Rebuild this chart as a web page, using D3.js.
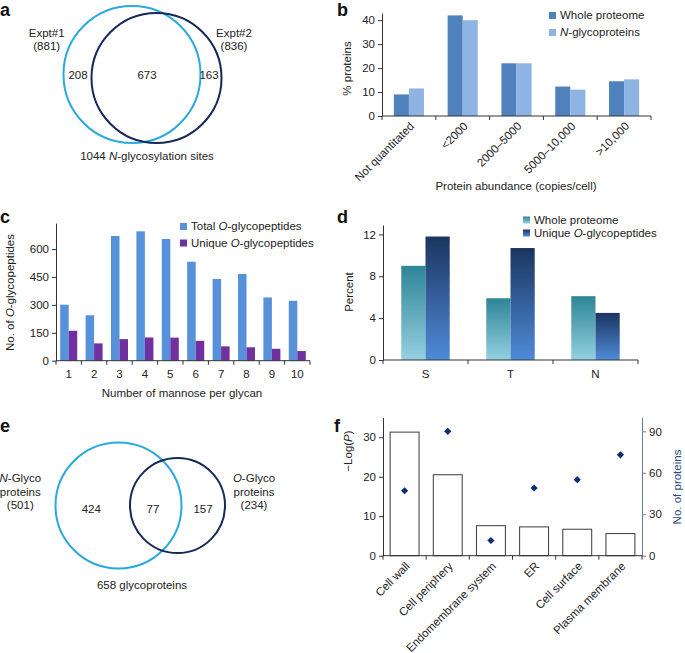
<!DOCTYPE html>
<html><head><meta charset="utf-8">
<script src="https://cdn.jsdelivr.net/npm/d3@7"></script>
<style>
body{margin:0;background:#fff;}
svg{display:block;font-family:"Liberation Sans",Arial,Helvetica,sans-serif;}
.tick text{font-size:11.5px;fill:#222;}
</style></head><body>
<svg id="fig" width="685" height="653"></svg>
<script>
// ---------- DATA ----------
// Panel a (Venn of N-glycosylation sites)
const vennASets = ["Expt#1", "Expt#2"];
const vennASizes = [881, 836];
const vennARegions = [208, 673, 163];
const vennATotal = 1044;
// Panel b
const abundanceCats = ["Not quantitated", "<2000", "2000–5000", "5000–10,000", ">10,000"];
const wholeProteomePct = [9.0, 42.0, 22.0, 12.3, 14.5];
const nGlycoPct = [11.5, 40.0, 22.0, 11.0, 15.3];
const bTicks = [0, 10, 20, 30, 40];
// Panel c
const mannoseCats = [1, 2, 3, 4, 5, 6, 7, 8, 9, 10];
const totalOGlyco = [301, 244, 670, 695, 654, 532, 439, 466, 340, 322];
const uniqueOGlyco = [161, 93, 116, 125, 124, 107, 77, 72, 64, 52];
const cTicks = [0, 150, 300, 450, 600];
// Panel d
const residueCats = ["S", "T", "N"];
const wholeProteomeRes = [9.0, 5.9, 6.1];
const uniqueORes = [11.8, 10.7, 4.5];
const dTicks = [0, 4, 8, 12];
// Panel e (Venn of glycoproteins)
const vennESets = ["N-Glyco proteins", "O-Glyco proteins"];
const vennESizes = [501, 234];
const vennERegions = [424, 77, 157];
const vennETotal = 658;
// Panel f
const goCats = ["Cell wall", "Cell periphery", "Endomembrane system", "ER", "Cell surface", "Plasma membrane"];
const negLogP = [31.3, 20.5, 7.6, 7.3, 6.7, 5.6];
const proteinCounts = [47, 90, 11, 49, 55, 73];
const fLeftTicks = [0, 10, 20, 30];
const fRightTicks = [0, 30, 60, 90];

// ---------- LAYOUT / STYLE ----------
const FS = 11.5;
const axisColor = "#333";
const svg = d3.select("#fig");

function panelLabel(t, x, y) {
  svg.append("text").attr("x", x).attr("y", y).attr("font-size", 18)
    .attr("font-weight", "bold").attr("fill", "#111").text(t);
}
function txt(g, x, y, parts, anchor = "middle", fill = "#222") {
  const t = g.append("text").attr("x", x).attr("y", y).attr("text-anchor", anchor)
    .attr("font-size", FS).attr("fill", fill);
  parts.forEach(p => {
    const s = t.append("tspan").text(p.t !== undefined ? p.t : p);
    if (p.i) s.attr("font-style", "italic");
  });
  return t;
}
function styleAxis(g, color = axisColor) {
  g.selectAll("path,line").attr("stroke", color).attr("stroke-width", 1);
  g.selectAll("text").attr("font-family", "inherit").attr("font-size", FS);
}
function bandBoundaryAxis(g, x, y0, color = axisColor) {
  const [r0, r1] = x.range();
  g.append("line").attr("x1", r0).attr("x2", r1).attr("y1", y0).attr("y2", y0)
    .attr("stroke", color);
  const n = x.domain().length;
  d3.range(n + 1).forEach(i => {
    const xx = r0 + i * x.step();
    g.append("line").attr("x1", xx).attr("x2", xx).attr("y1", y0).attr("y2", y0 + 4)
      .attr("stroke", color);
  });
}
function legendItem(g, x, y, fill, parts) {
  g.append("rect").attr("x", x).attr("y", y - 7).attr("width", 7).attr("height", 7).attr("fill", fill);
  txt(g, x + 11, y, parts, "start");
}

// ---------- PANEL A ----------
panelLabel("a", 0, 16);
{
  const g = svg.append("g");
  const layout = [{ cx: 132, cy: 74.5, r: 68.5, color: "#29a9e0" }, { cx: 156.5, cy: 78, r: 65, color: "#14285a" }];
  g.selectAll("circle").data(vennASizes).join("circle")
    .attr("cx", (d, i) => layout[i].cx).attr("cy", (d, i) => layout[i].cy)
    .attr("r", (d, i) => layout[i].r).attr("fill", "none")
    .attr("stroke", (d, i) => layout[i].color).attr("stroke-width", 2);
  txt(g, 46.7, 36.5, [vennASets[0]]);
  txt(g, 46.7, 50, [`(${vennASizes[0]})`]);
  txt(g, 234, 36.5, [vennASets[1]]);
  txt(g, 234, 50, [`(${vennASizes[1]})`]);
  [78, 147, 209].forEach((x, i) => txt(g, x, 79, [String(vennARegions[i])]));
  txt(g, 147, 160, [`${vennATotal} `, { t: "N", i: true }, "-glycosylation sites"]);
}

// ---------- PANEL B ----------
panelLabel("b", 337, 16);
{
  const g = svg.append("g");
  const x = d3.scaleBand().domain(abundanceCats).range([382, 651]);
  const y = d3.scaleLinear().domain([0, 43]).range([116, 13]);
  const bw = x.bandwidth() * 0.28;
  g.selectAll(".b1").data(wholeProteomePct).join("rect")
    .attr("x", (d, i) => x(abundanceCats[i]) + x.bandwidth() / 2 - bw)
    .attr("y", d => y(d)).attr("width", bw).attr("height", d => y(0) - y(d)).attr("fill", "#4f81bd");
  g.selectAll(".b2").data(nGlycoPct).join("rect")
    .attr("x", (d, i) => x(abundanceCats[i]) + x.bandwidth() / 2)
    .attr("y", d => y(d)).attr("width", bw).attr("height", d => y(0) - y(d)).attr("fill", "#8fb4e3");
  const ya = g.append("g").attr("transform", `translate(382,0)`)
    .call(d3.axisLeft(y).tickValues(bTicks).tickSize(4).tickSizeOuter(0));
  styleAxis(ya);
  bandBoundaryAxis(g, x, 116);
  abundanceCats.forEach(c => {
    g.append("text").attr("transform", `translate(${x(c) + x.bandwidth() / 2 + 3},${124}) rotate(-45)`)
      .attr("text-anchor", "end").attr("font-size", FS).attr("fill", "#222").attr("dy", "0.35em").text(c);
  });
  txt(g, 516, 190, ["Protein abundance (copies/cell)"]);
  txt(g, 0, 0, ["% proteins"]).attr("transform", "translate(351,68.5) rotate(-90)");
  legendItem(g, 549, 19, "#4f81bd", ["Whole proteome"]);
  legendItem(g, 549, 36, "#8fb4e3", [{ t: "N", i: true }, "-glycoproteins"]);
}

// ---------- PANEL C ----------
panelLabel("c", 0, 223);
{
  const g = svg.append("g");
  const x = d3.scaleBand().domain(mannoseCats).range([56, 310]);
  const y = d3.scaleLinear().domain([0, 740]).range([360.7, 223]);
  const bw = x.bandwidth() * 0.335;
  g.selectAll(".c1").data(totalOGlyco).join("rect")
    .attr("x", (d, i) => x(mannoseCats[i]) + x.bandwidth() / 2 - bw)
    .attr("y", d => y(d)).attr("width", bw).attr("height", d => y(0) - y(d)).attr("fill", "#5691da");
  g.selectAll(".c2").data(uniqueOGlyco).join("rect")
    .attr("x", (d, i) => x(mannoseCats[i]) + x.bandwidth() / 2)
    .attr("y", d => y(d)).attr("width", bw).attr("height", d => y(0) - y(d)).attr("fill", "#7030a0");
  const ya = g.append("g").attr("transform", `translate(56,0)`)
    .call(d3.axisLeft(y).tickValues(cTicks).tickSize(4).tickSizeOuter(0));
  styleAxis(ya);
  bandBoundaryAxis(g, x, 360.7);
  mannoseCats.forEach(c => txt(g, x(c) + x.bandwidth() / 2, 378, [String(c)]));
  txt(g, 182, 397, ["Number of mannose per glycan"]);
  txt(g, 0, 0, ["No. of ", { t: "O", i: true }, "-glycopeptides"]).attr("transform", "translate(14,292.5) rotate(-90)");
  legendItem(g, 180, 230, "#5691da", ["Total ", { t: "O", i: true }, "-glycopeptides"]);
  legendItem(g, 180, 246.5, "#7030a0", ["Unique ", { t: "O", i: true }, "-glycopeptides"]);
}

// ---------- PANEL D ----------
panelLabel("d", 337, 223);
{
  const g = svg.append("g");
  const defs = svg.append("defs");
  const gr1 = defs.append("linearGradient").attr("id", "gTeal").attr("x1", 0).attr("y1", 0).attr("x2", 0).attr("y2", 1);
  gr1.append("stop").attr("offset", "0%").attr("stop-color", "#2d8596");
  gr1.append("stop").attr("offset", "100%").attr("stop-color", "#95d0e0");
  const gr2 = defs.append("linearGradient").attr("id", "gBlue").attr("x1", 0).attr("y1", 0).attr("x2", 0).attr("y2", 1);
  gr2.append("stop").attr("offset", "0%").attr("stop-color", "#1b3560");
  gr2.append("stop").attr("offset", "100%").attr("stop-color", "#4f8bd8");
  const x = d3.scaleBand().domain(residueCats).range([383, 638]);
  const y = d3.scaleLinear().domain([0, 12.9]).range([360, 225]);
  const bw = x.bandwidth() * 0.285;
  g.selectAll(".d1").data(wholeProteomeRes).join("rect")
    .attr("x", (d, i) => x(residueCats[i]) + x.bandwidth() / 2 - bw)
    .attr("y", d => y(d)).attr("width", bw).attr("height", d => y(0) - y(d)).attr("fill", "url(#gTeal)");
  g.selectAll(".d2").data(uniqueORes).join("rect")
    .attr("x", (d, i) => x(residueCats[i]) + x.bandwidth() / 2)
    .attr("y", d => y(d)).attr("width", bw).attr("height", d => y(0) - y(d)).attr("fill", "url(#gBlue)");
  const ya = g.append("g").attr("transform", `translate(383,0)`)
    .call(d3.axisLeft(y).tickValues(dTicks).tickSize(4).tickSizeOuter(0));
  styleAxis(ya);
  bandBoundaryAxis(g, x, 360);
  residueCats.forEach(c => txt(g, x(c) + x.bandwidth() / 2, 378, [c]));
  txt(g, 0, 0, ["Percent"]).attr("transform", "translate(353,292) rotate(-90)");
  legendItem(g, 523, 223.5, "url(#gTeal)", ["Whole proteome"]);
  legendItem(g, 523, 236.5, "url(#gBlue)", ["Unique ", { t: "O", i: true }, "-glycopeptides"]);
}

// ---------- PANEL E ----------
panelLabel("e", 0, 432);
{
  const g = svg.append("g");
  const layout = [{ cx: 118.5, cy: 505.5, r: 63, color: "#29a9e0" }, { cx: 177.5, cy: 505.5, r: 47.5, color: "#14285a" }];
  g.selectAll("circle").data(vennESizes).join("circle")
    .attr("cx", (d, i) => layout[i].cx).attr("cy", (d, i) => layout[i].cy)
    .attr("r", (d, i) => layout[i].r).attr("fill", "none")
    .attr("stroke", (d, i) => layout[i].color).attr("stroke-width", 2);
  const [nA, nB] = vennESets.map(s => s.split(" "));
  txt(g, 20.3, 482, [{ t: nA[0][0], i: true }, nA[0].slice(1)]);
  txt(g, 20.3, 495.5, [nA[1]]);
  txt(g, 20.3, 509, [`(${vennESizes[0]})`]);
  txt(g, 254, 482, [{ t: nB[0][0], i: true }, nB[0].slice(1)]);
  txt(g, 254, 495.5, [nB[1]]);
  txt(g, 254, 509, [`(${vennESizes[1]})`]);
  [91.3, 153, 203].forEach((x, i) => txt(g, x, 512.5, [String(vennERegions[i])]));
  txt(g, 142, 588.5, [`${vennETotal} glycoproteins`]);
}

// ---------- PANEL F ----------
panelLabel("f", 334, 432);
{
  const g = svg.append("g");
  const x = d3.scaleBand().domain(goCats).range([383, 642]);
  const yL = d3.scaleLinear().domain([0, 35]).range([555.7, 417.5]);
  const yR = d3.scaleLinear().domain([0, 100]).range([555.7, 417.5]);
  const bw = x.bandwidth() * 0.67;
  g.selectAll(".f1").data(negLogP).join("rect")
    .attr("x", (d, i) => x(goCats[i]) + (x.bandwidth() - bw) / 2)
    .attr("y", d => yL(d)).attr("width", bw).attr("height", d => yL(0) - yL(d))
    .attr("fill", "#fff").attr("stroke", "#3a3a3a").attr("stroke-width", 1);
  const diamond = d3.symbol().type(d3.symbolSquare).size(26);
  g.selectAll(".f2").data(proteinCounts).join("path")
    .attr("d", diamond)
    .attr("transform", (d, i) => `translate(${x(goCats[i]) + x.bandwidth() / 2},${yR(d)}) rotate(45)`)
    .attr("fill", "#0c2d78");
  const ya = g.append("g").attr("transform", `translate(383,0)`)
    .call(d3.axisLeft(yL).tickValues(fLeftTicks).tickSize(4).tickSizeOuter(0));
  styleAxis(ya);
  const yb = g.append("g").attr("transform", `translate(642,0)`)
    .call(d3.axisRight(yR).tickValues(fRightTicks).tickSize(4).tickSizeOuter(0));
  styleAxis(yb, "#6a7aa8");
  yb.selectAll("text").attr("fill", "#2e4a8c");
  bandBoundaryAxis(g, x, 555.7);
  goCats.forEach(c => {
    g.append("text").attr("transform", `translate(${x(c) + x.bandwidth() / 2 + 3},${564}) rotate(-45)`)
      .attr("text-anchor", "end").attr("font-size", FS).attr("fill", "#222").attr("dy", "0.35em").text(c);
  });
  txt(g, 0, 0, ["\u2212Log(", { t: "P", i: true }, ")"]).attr("transform", "translate(352,451) rotate(-90)");
  txt(g, 0, 0, ["No. of proteins"], "middle", "#2e4a8c").attr("transform", "translate(681,487) rotate(-90)");
}
</script></body></html>
